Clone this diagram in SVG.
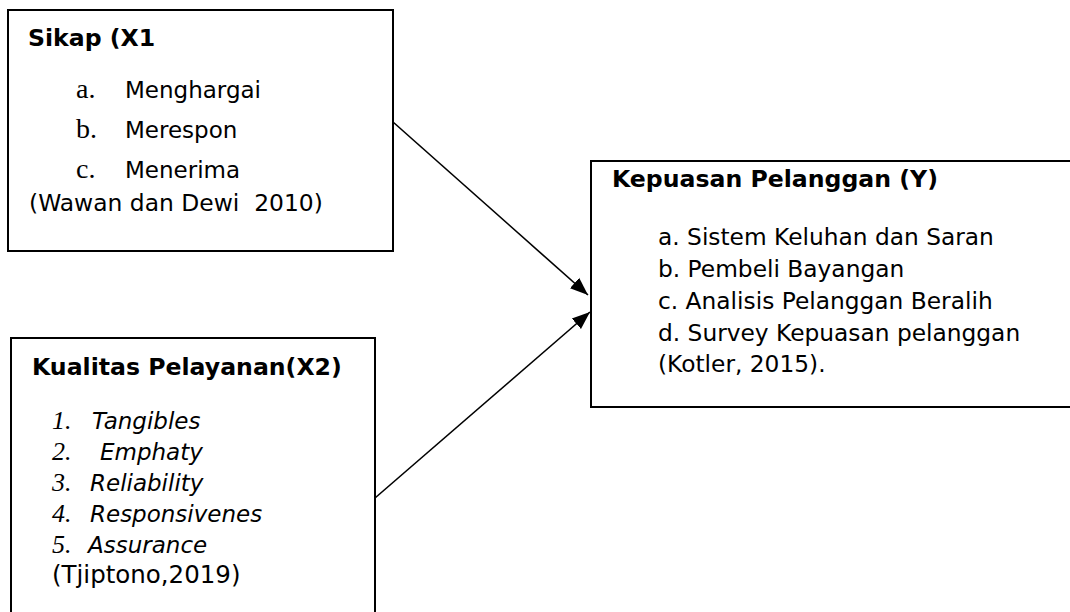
<svg xmlns="http://www.w3.org/2000/svg" width="1070" height="612" viewBox="0 0 1070 612">
<style>
.box{fill:#fff;stroke:#000;stroke-width:2}
.t{font-family:"DejaVu Sans",Verdana,sans-serif;font-size:23px;fill:#000}
.b{font-family:"DejaVu Sans",Verdana,sans-serif;font-size:23.6px;font-weight:bold;fill:#000}
.s{font-family:"Liberation Serif","Times New Roman",serif;font-size:28px;fill:#000}
.n{font-family:"Liberation Serif","Times New Roman",serif;font-size:26px;font-style:italic;fill:#000}
.i{font-style:italic}
.c{stroke:#000;stroke-width:1.6;fill:none}
</style>
<defs>
<marker id="ah" markerUnits="userSpaceOnUse" markerWidth="20" markerHeight="16" refX="18" refY="7" orient="auto" viewBox="0 0 20 14">
<path d="M0,0 L18,7 L0,14 Z" fill="#000"/>
</marker>
</defs>
<rect width="1070" height="612" fill="#fff"/>
<g id="node-sikap">
<rect class="box" x="8" y="10" width="385" height="241"/>
<text class="b" x="28" y="46">Sikap (X1</text>
<text class="s" x="76" y="98">a.</text><text class="t" x="125" y="98">Menghargai</text>
<text class="s" x="76" y="138">b.</text><text class="t" x="125" y="138">Merespon</text>
<text class="s" x="76" y="178">c.</text><text class="t" x="125" y="178">Menerima</text>
<text class="t" x="29" y="211" style="font-size:23.4px" xml:space="preserve">(Wawan dan Dewi  2010)</text>
</g>
<g id="node-kualitas">
<rect class="box" x="11" y="338" width="364" height="290"/>
<text class="b" x="32" y="375">Kualitas Pelayanan(X2)</text>
<text class="n" x="52" y="429">1.</text><text class="t i" x="92" y="429">Tangibles</text>
<text class="n" x="52" y="460">2.</text><text class="t i" x="100" y="460">Emphaty</text>
<text class="n" x="52" y="491">3.</text><text class="t i" x="90" y="491">Reliability</text>
<text class="n" x="52" y="522">4.</text><text class="t i" x="90" y="522">Responsivenes</text>
<text class="n" x="52" y="553">5.</text><text class="t i" x="88" y="553">Assurance</text>
<text class="t" x="52" y="583" style="font-size:24.5px">(Tjiptono,2019)</text>
</g>
<g id="node-kepuasan">
<rect class="box" x="591" y="161" width="500" height="246"/>
<text class="b" x="612" y="187">Kepuasan Pelanggan (Y)</text>
<text class="t" x="658" y="245" style="font-size:23.3px">a. Sistem Keluhan dan Saran</text>
<text class="t" x="658" y="277" style="font-size:23.3px">b. Pembeli Bayangan</text>
<text class="t" x="658" y="309" style="font-size:23.3px">c. Analisis Pelanggan Beralih</text>
<text class="t" x="658" y="341" style="font-size:23.3px">d. Survey Kepuasan pelanggan</text>
<text class="t" x="658" y="372" style="font-size:23.3px">(Kotler, 2015).</text>
</g>
<g id="connectors">
<line class="c" x1="393" y1="122" x2="588" y2="295" marker-end="url(#ah)"/>
<line class="c" x1="375" y1="498" x2="590" y2="312" marker-end="url(#ah)"/>
</g>
</svg>
